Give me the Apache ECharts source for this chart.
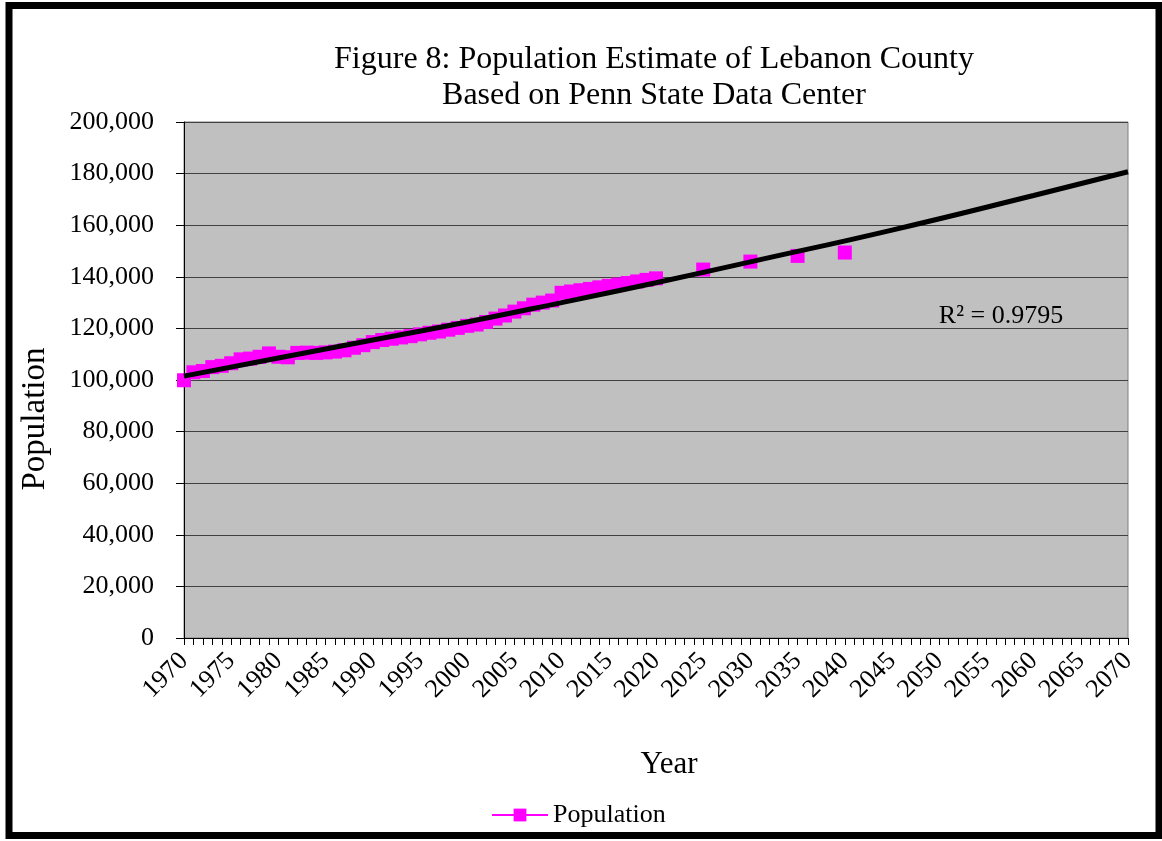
<!DOCTYPE html>
<html>
<head>
<meta charset="utf-8">
<script src="https://cdn.jsdelivr.net/npm/echarts@6/dist/echarts.min.js"></script>
<style>
  html, body { margin: 0; padding: 0; background: #fff; }
  #chart { width: 1162px; height: 841px; }
</style>
</head>
<body>
<div id="chart"></div>
<script>
// population estimates (null = gap, no connecting line)
const popYears = [
  1970, 1971, 1972, 1973, 1974, 1975, 1976, 1977, 1978, 1979,
  1980, 1981, 1982, 1983, 1984, 1985, 1986, 1987, 1988, 1989,
  1990, 1991, 1992, 1993, 1994, 1995, 1996, 1997, 1998, 1999,
  2000, 2001, 2002, 2003, 2004, 2005, 2006, 2007, 2008, 2009,
  2010, 2011, 2012, 2013, 2014, 2015, 2016, 2017, 2018, 2019,
  2020, 2022, 2025, 2027, 2030, 2032, 2035, 2037, 2040
]
const popValues = [
  99900, 103000, 103500, 105000, 105500, 106500, 108000, 108300, 109000, 110300,
  109000, 108800, 110500, 110600, 110500, 110700, 111000, 111500, 112500, 113500,
  114700, 115500, 116000, 116500, 117000, 117700, 118300, 118800, 119500, 120200,
  121000, 121500, 122500, 123800, 125000, 126500, 127800, 129200, 130000, 130800,
  133800, 134300, 134800, 135300, 135900, 136500, 137000, 137600, 138200, 138800,
  139400, null, 142800, null, 145900, null, 148100, null, 149400
]
// trend line
const trendYears = [1970, 1980, 1990, 2000, 2010, 2020, 2030, 2045, 2060, 2070]
const trendValues = [101500, 108500, 115500, 122500, 130000, 137700, 145800, 158100, 171500, 180700]

const FONT = 'Liberation Serif'

const chart = echarts.init(document.getElementById('chart'))
chart.setOption({
  backgroundColor: '#fff',
  animation: false,
  textStyle: { fontFamily: FONT, color: '#000' },
  title: {
    text: 'Figure 8: Population Estimate of Lebanon County\nBased on Penn State Data Center',
    left: 649,
    top: 37,
    textAlign: 'center',
    textStyle: { fontFamily: FONT, fontSize: 32, fontWeight: 'normal', color: '#000', lineHeight: 36 },
  },
  legend: {
    data: ['Population'],
    left: 486,
    top: 797,
    itemWidth: 56,
    itemHeight: 16,
    itemGap: 4,
    textStyle: { fontFamily: FONT, fontSize: 26, color: '#000' },
  },
  grid: {
    left: 184, right: 34, top: 122, bottom: 203,
    show: true,
    backgroundColor: '#C0C0C0',
    borderColor: '#808080',
    borderWidth: 1,
  },
  xAxis: {
    type: 'value',
    min: 1970,
    max: 2070,
    interval: 1,
    axisLine: { show: true, onZero: false, lineStyle: { color: '#000', width: 1 } },
    axisTick: { show: true, length: 7, lineStyle: { color: '#000' } },
    splitLine: { show: false },
    axisLabel: {
      rotate: 45,
      margin: 19,
      fontFamily: FONT,
      fontSize: 26,
      color: '#000',
      formatter: v => (v % 5 === 0 ? String(v) : ''),
    },
  },
  yAxis: {
    type: 'value',
    min: 0,
    max: 200000,
    interval: 20000,
    axisLine: { show: true, lineStyle: { color: '#000', width: 1 } },
    axisTick: { show: true, length: 8, lineStyle: { color: '#000' } },
    splitLine: { show: true, lineStyle: { color: '#404040', width: 1 } },
    axisLabel: {
      margin: 30,
      fontFamily: FONT,
      fontSize: 26,
      color: '#000',
      formatter: v => v.toLocaleString('en-US'),
    },
  },
  graphic: [
    {
      type: 'rect',
      shape: { x: 9, y: 5.5, width: 1150, height: 830 },
      style: { fill: 'none', stroke: '#000', lineWidth: 7 },
      z: 100,
    },
    {
      type: 'text',
      x: 35, y: 419, rotation: Math.PI / 2,
      style: { text: 'Population', font: '33px "Liberation Serif"', fill: '#000', align: 'center', verticalAlign: 'middle' },
    },
    {
      type: 'text',
      x: 669, y: 765,
      style: { text: 'Year', font: '31px "Liberation Serif"', fill: '#000', align: 'center', verticalAlign: 'middle' },
    },
    {
      type: 'text',
      x: 1001, y: 316,
      style: { text: 'R² = 0.9795', font: '26px "Liberation Serif"', fill: '#000', align: 'center', verticalAlign: 'middle' },
    },
  ],
  series: [
    {
      name: 'Population',
      type: 'line',
      data: popYears.map((y, i) => [y, popValues[i] === null ? '-' : popValues[i]]),
      symbol: 'rect',
      symbolSize: 14,
      showAllSymbol: true,
      connectNulls: false,
      lineStyle: { color: '#FF00FF', width: 2 },
      itemStyle: { color: '#FF00FF' },
      z: 2,
    },
    {
      name: 'Trend',
      type: 'line',
      data: trendYears.map((y, i) => [y, trendValues[i]]),
      smooth: true,
      symbol: 'none',
      lineStyle: { color: '#000', width: 5 },
      z: 10,
    },
  ],
})
</script>
</body>
</html>
